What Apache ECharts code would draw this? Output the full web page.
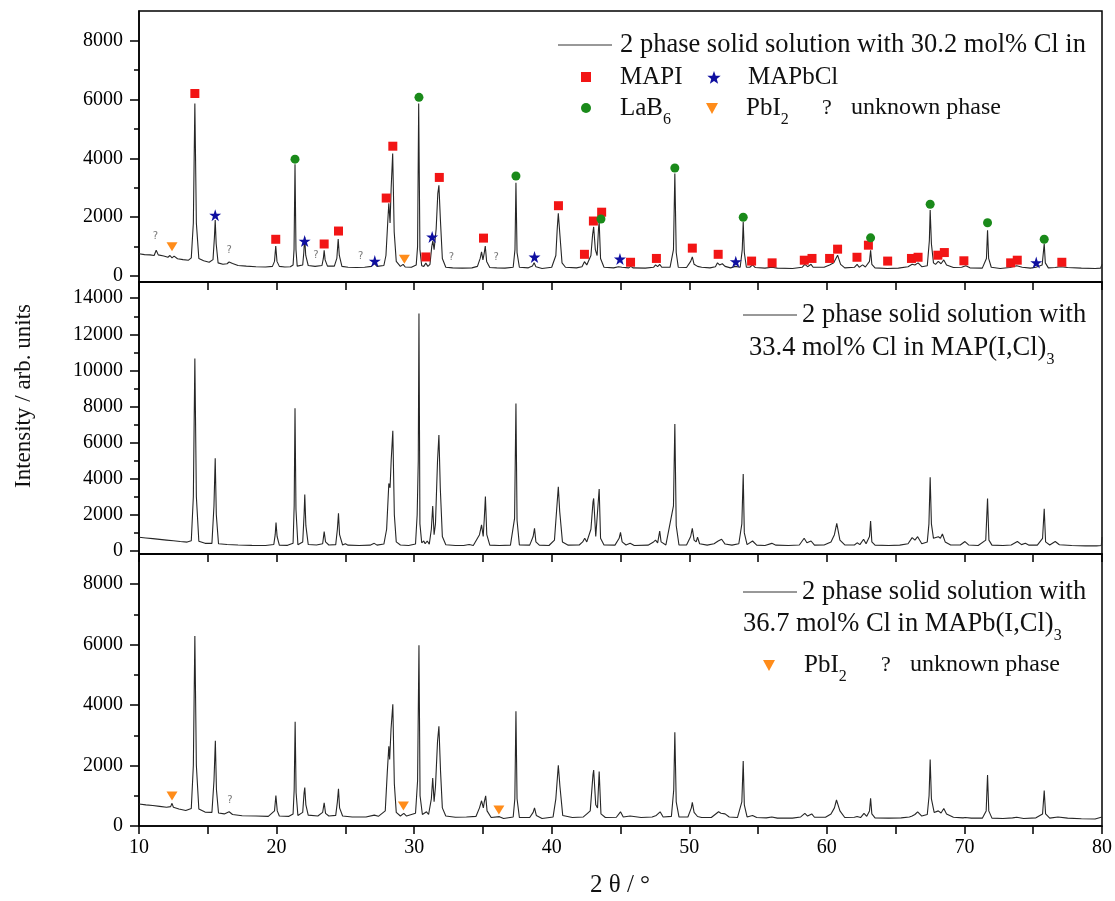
<!DOCTYPE html>
<html>
<head>
<meta charset="utf-8">
<script src="https://cdn.jsdelivr.net/npm/echarts@6/dist/echarts.min.js"></script>
<style>
  html, body { margin: 0; padding: 0; background: #fff; }
  #chart { width: 1115px; height: 901px; }
</style>
</head>
<body>
<div id="chart"></div>
<script>
// tick values
const xTicks = [10, 15, 20, 25, 30, 35, 40, 45, 50, 55, 60, 65, 70, 75, 80];
const xLabels = [10, 20, 30, 40, 50, 60, 70, 80];
const topMajor = [0, 2000, 4000, 6000, 8000];
const topMinor = [1000, 3000, 5000, 7000];
const midMajor = [0, 2000, 4000, 6000, 8000, 10000, 12000, 14000];
const midMinor = [1000, 3000, 5000, 7000, 9000, 11000, 13000];
const botMajor = [0, 2000, 4000, 6000, 8000];
const botMinor = [1000, 3000, 5000, 7000];

// pattern, 30.2 mol% Cl
const pattern302 = [
  [10.0,760],[10.4,730],[10.8,720],[11.1,700],[11.25,880],[11.4,720],[11.8,680],[12.1,640],[12.25,700],[12.4,620],[12.55,680],[12.8,590],[13.2,560],[13.6,540],
  [13.8,620],[13.95,1800],[14.06,5860],[14.17,1800],[14.35,600],[14.7,520],[15.1,470],
  [15.38,560],[15.48,1300],[15.54,1900],[15.61,1100],[15.75,450],[16.1,400],[16.4,420],[16.55,480],[16.8,430],[17.2,360],[17.8,340],[18.5,320],[19.2,310],[19.7,330],
  [19.85,500],[19.94,1020],[20.03,500],[20.2,330],[20.6,310],[21.0,320],[21.2,380],
  [21.27,900],[21.34,3800],[21.41,900],[21.5,340],[21.9,380],
  [21.98,800],[22.04,1330],[22.12,700],[22.3,360],[22.8,330],[23.3,360],
  [23.4,600],[23.46,880],[23.53,550],[23.7,340],[24.2,340],[24.38,600],[24.48,1260],[24.56,700],[24.75,330],[25.2,300],[25.8,290],[26.4,300],[26.9,330],[27.1,430],[27.3,330],[27.8,360],
  [27.95,700],[28.1,2000],[28.16,2470],[28.25,1800],[28.33,3000],[28.44,4160],[28.55,1500],[28.7,500],[29.0,330],[29.2,400],[29.35,310],[29.8,300],[30.15,380],
  [30.25,1000],[30.33,5860],[30.42,900],[30.55,350],[30.7,330],[30.85,440],[31.0,330],
  [31.15,400],[31.28,1000],[31.36,1200],[31.45,900],[31.6,1600],[31.72,2800],[31.8,3080],[31.9,2000],[32.05,600],[32.3,300],[32.8,280],[33.5,270],[34.2,280],[34.6,330],
  [34.8,600],[34.9,820],[35.0,550],[35.1,800],[35.17,1020],[35.27,500],[35.5,290],[36.0,280],[36.6,270],[37.2,300],
  [37.33,900],[37.4,3170],[37.48,800],[37.65,300],[38.3,280],[38.6,340],[38.72,450],[38.85,320],[39.3,260],[40.0,300],[40.3,700],
  [40.4,1600],[40.48,2130],[40.58,1500],[40.75,450],[41.0,300],[41.8,280],[42.2,320],[42.38,490],[42.55,380],[42.85,700],
  [42.97,1400],[43.05,1670],[43.17,900],[43.3,700],[43.4,1600],[43.45,1840],[43.55,600],[43.8,300],[44.5,280],[44.85,320],[44.96,370],[45.1,300],[45.6,280],[45.75,330],[45.9,280],[46.8,270],[47.4,300],[47.55,380],[47.7,320],[47.85,400],[48.0,300],[48.6,300],[48.85,900],
  [48.95,3480],[49.05,800],[49.2,300],[49.8,290],[50.1,500],[50.22,650],[50.35,400],[50.6,330],[50.7,380],[50.9,300],[51.5,280],[51.9,320],[52.05,450],[52.2,380],[52.4,420],[52.6,330],[53.0,280],[53.35,330],[53.7,300],[53.85,900],
  [53.92,1840],[54.0,800],[54.15,300],[54.4,300],[54.6,380],[54.8,290],[55.5,270],[56.0,300],[56.4,270],[57.5,260],[58.2,300],[58.4,400],[58.6,320],[58.85,400],[59.0,300],[59.8,300],[60.2,380],[60.5,450],
  [60.78,710],[61.0,400],[61.3,280],[62.0,300],[62.2,400],[62.35,300],[62.6,380],[62.8,310],[63.1,500],[63.18,880],[63.27,400],[63.5,280],[64.4,260],[65.2,270],[65.9,320],[66.2,400],[66.4,380],[66.63,450],[66.9,320],[67.3,350],[67.45,1200],
  [67.51,2240],[67.6,1100],[67.75,450],[67.9,400],[68.1,500],[68.3,420],[68.5,550],[68.7,380],[69.2,290],[69.8,300],[70.1,350],[70.4,280],[71.3,270],[71.6,600],[71.68,1560],[71.76,600],[71.95,300],[72.6,260],[73.3,290],[73.8,350],[74.2,300],[74.8,270],[75.2,300],[75.65,380],[75.8,1100],[75.88,450],[76.1,280],[76.6,290],[77.0,320],[77.5,290],[78.5,270],[79.5,260],[79.9,270],[80.0,400]
];

// pattern, 33.4 mol% Cl
const pattern334 = [
  [10.0,760],[10.5,720],[11.0,680],[11.5,640],[12.0,600],[12.5,560],[13.0,520],[13.5,490],
  [13.8,560],[13.95,3000],[14.06,10660],[14.17,3000],[14.35,540],[14.8,420],[15.3,420],
  [15.45,2500],[15.54,5130],[15.62,2000],[15.78,400],[16.4,360],[17.2,330],[18.2,310],[19.2,300],[19.8,360],
  [19.9,900],[19.96,1570],[20.04,800],[20.2,320],[20.8,310],[21.2,420],
  [21.28,2500],[21.34,7900],[21.41,2300],[21.55,340],[21.9,500],[22.0,2000],[22.05,3130],[22.13,1400],[22.3,360],[22.9,330],
  [23.35,400],[23.46,1070],[23.56,500],[23.8,330],[24.3,350],[24.42,1200],[24.5,2080],[24.58,900],[24.8,330],[25.0,400],[25.2,320],[26.0,300],[26.8,320],[27.1,420],[27.3,320],[27.8,380],
  [28.0,1200],[28.16,3740],[28.25,3500],[28.33,5000],[28.45,6660],[28.56,2000],[28.7,500],[29.0,330],[29.6,300],[30.1,380],
  [30.22,2000],[30.3,5000],[30.35,13150],[30.42,1500],[30.55,450],[30.7,550],[30.8,400],[30.95,550],[31.1,380],
  [31.25,1200],[31.35,2490],[31.45,900],[31.55,1500],[31.7,5000],[31.8,6420],[31.9,3500],[32.05,800],[32.3,340],[33.0,300],[33.6,300],[34.0,360],[34.3,300],
  [34.75,900],[34.9,1440],[35.02,800],[35.1,1800],[35.18,3010],[35.28,900],[35.5,320],[36.2,300],[37.0,320],
  [37.3,1800],[37.4,8170],[37.48,1700],[37.65,330],[38.4,320],[38.65,800],[38.75,1250],[38.85,500],[39.1,320],[39.8,300],[40.2,600],
  [40.38,2500],[40.48,3560],[40.58,2200],[40.78,500],[41.2,320],[42.0,330],[42.25,500],[42.4,700],[42.55,500],[42.85,1200],
  [43.0,2700],[43.05,2910],[43.2,800],[43.33,900],[43.45,3430],[43.55,700],[43.8,330],[44.6,320],[44.9,700],[45.0,1030],[45.12,500],[45.4,330],[45.7,420],[46.0,300],[47.0,320],[47.4,500],[47.55,600],[47.7,450],[47.85,1100],[47.95,500],[48.3,330],
  [48.85,2500],[48.95,7030],[49.05,1400],[49.25,330],[49.8,330],[50.1,800],[50.22,1250],[50.35,600],[50.5,500],[50.6,760],[50.75,400],[51.3,320],[51.8,400],[52.1,550],[52.35,650],[52.6,380],[53.1,320],[53.6,400],
  [53.82,1500],[53.92,4260],[54.0,1000],[54.2,350],[54.6,550],[54.9,320],[55.5,300],[56.0,420],[56.3,320],[57.2,300],[58.0,330],[58.35,700],[58.55,450],[58.85,550],[59.1,320],[59.8,330],[60.3,500],[60.55,900],
  [60.72,1530],[60.95,600],[61.3,330],[62.0,330],[62.2,450],[62.4,350],[62.67,650],[62.85,400],[63.1,800],[63.18,1660],[63.27,500],[63.5,320],[64.5,300],[65.3,320],[65.9,400],[66.2,740],[66.4,600],[66.6,790],[66.9,400],[67.3,500],
  [67.42,1500],[67.51,4080],[67.6,1500],[67.75,700],[68.1,790],[68.25,700],[68.4,940],[68.6,500],[69.0,330],[69.7,330],[70.04,520],[70.3,330],[71.0,300],
  [71.55,600],[71.68,2900],[71.78,600],[72.0,320],[72.8,300],[73.4,330],[73.85,520],[74.15,350],[74.43,420],[74.7,320],[75.3,320],
  [75.68,700],[75.8,2340],[75.9,500],[76.2,330],[76.6,520],[76.9,340],[77.8,300],[78.8,280],[79.6,280],[79.95,300],[80.0,770]
];

// pattern, 36.7 mol% Cl
const pattern367 = [
  [10.0,730],[10.5,700],[11.0,680],[11.5,650],[12.0,620],[12.3,640],[12.4,750],[12.5,620],[12.9,560],[13.4,510],
  [13.8,580],[13.95,2000],[14.06,6290],[14.17,2000],[14.35,560],[14.8,460],[15.3,450],
  [15.45,1500],[15.55,2820],[15.63,1200],[15.78,430],[16.2,400],[16.55,470],[16.8,380],[17.5,340],[18.5,330],[19.4,320],
  [19.85,500],[19.95,1010],[20.05,500],[20.2,330],[20.9,320],[21.2,400],
  [21.28,1200],[21.35,3450],[21.42,1100],[21.55,350],[21.9,450],[22.0,1100],[22.05,1270],[22.13,700],[22.3,360],[23.0,330],
  [23.35,450],[23.46,770],[23.56,420],[23.8,330],[24.3,350],[24.42,800],[24.5,1230],[24.58,600],[24.8,330],[25.5,300],[26.5,300],[27.1,360],[27.4,320],
  [27.9,500],[28.05,1800],[28.16,2640],[28.22,2200],[28.32,3200],[28.45,4030],[28.56,1400],[28.7,450],[29.0,330],[29.25,420],[29.45,330],[30.1,420],
  [30.25,1500],[30.35,5980],[30.43,1000],[30.6,380],[30.9,470],[31.05,380],
  [31.25,900],[31.35,1590],[31.45,800],[31.55,1300],[31.7,2800],[31.8,3300],[31.92,1800],[32.05,600],[32.3,330],[33.0,290],[33.8,300],[34.5,320],
  [34.75,600],[34.9,835],[35.03,600],[35.1,800],[35.2,1000],[35.3,500],[35.6,280],[36.2,310],[36.5,250],[37.2,300],
  [37.32,900],[37.4,3800],[37.48,900],[37.65,280],[38.4,280],[38.65,450],[38.75,600],[38.88,350],[39.3,250],[40.1,300],
  [40.3,900],[40.48,2010],[40.6,1300],[40.8,350],[41.5,280],[42.3,300],[42.6,420],[42.8,500],
  [43.0,1700],[43.05,1850],[43.2,700],[43.33,600],[43.45,1800],[43.58,400],[43.9,280],[44.7,290],[45.0,470],[45.2,300],[45.7,330],[46.5,280],[47.3,300],[47.6,350],[47.88,470],[48.1,300],[48.7,320],
  [48.87,1200],[48.95,3100],[49.05,800],[49.25,300],[49.9,300],[50.15,600],[50.22,780],[50.35,450],[50.6,315],[50.9,280],[51.6,280],[52.13,470],[52.3,420],[52.6,400],[52.9,300],[53.5,280],
  [53.82,800],[53.92,2150],[54.0,700],[54.2,300],[54.6,350],[54.9,280],[55.6,270],[56.0,300],[56.4,260],[57.5,260],[58.1,300],[58.4,420],[58.6,330],[58.9,400],[59.1,290],[59.9,290],[60.3,400],[60.55,600],
  [60.7,860],[60.95,500],[61.3,280],[62.0,290],[62.2,315],[62.45,280],[62.7,420],[62.9,320],[63.1,500],[63.18,915],[63.27,400],[63.5,270],[64.5,260],[65.4,270],[66.0,300],[66.2,330],[66.4,380],[66.6,470],[66.9,330],[67.3,380],
  [67.43,1000],[67.51,2200],[67.6,900],[67.8,450],[68.1,500],[68.3,430],[68.5,577],[68.7,400],[69.2,290],[69.9,270],[70.05,280],[70.5,260],[71.3,260],
  [71.58,500],[71.68,1690],[71.77,500],[72.0,260],[72.8,250],[73.5,270],[73.8,290],[74.3,250],[75.2,270],
  [75.68,400],[75.8,1170],[75.9,400],[76.2,260],[76.8,300],[77.5,260],[78.5,240],[79.5,230],[80.0,300]
];

// phase markers, top panel
const mapiMarks = [[14.06,6200],[19.94,1250],[23.46,1090],[24.5,1530],[27.97,2650],[28.45,4410],[30.85,650],[31.83,3350],[35.04,1290],[40.49,2390],[42.38,740],[43.03,1870],[43.63,2170],[45.73,470],[47.61,600],[50.22,950],[52.1,740],[54.53,510],[56.02,450],[58.36,540],[58.92,600],[60.2,600],[60.78,915],[62.19,640],[63.02,1050],[64.42,510],[66.15,600],[66.63,640],[68.07,710],[68.54,800],[69.96,520],[73.36,450],[73.84,540],[77.08,470]];
const mapbclMarks = [[15.54,2070],[22.04,1190],[27.14,510],[31.31,1330],[38.75,650],[44.96,580],[53.38,490],[75.22,460]];
const lab6Marks = [[21.34,3970],[30.35,6070],[37.4,3400],[43.58,1940],[48.95,3670],[53.92,2000],[63.18,1300],[67.51,2440],[71.68,1810],[75.8,1250]];
const pbi2MarksTop = [[12.4,1000],[29.29,570]];
const unknownMarksTop = [[11.2,1350],[16.55,880],[22.86,710],[26.12,680],[32.7,640],[35.97,640]];
// phase markers, bottom panel
const pbi2MarksBot = [[12.4,990],[29.22,660],[36.16,530]];
const unknownMarksBot = [[16.6,840]];

const FONT = '"Liberation Serif", "Times New Roman", serif';
const STAR = 'path://M0,-10L2.245,-3.09L9.51,-3.09L3.633,1.18L5.878,8.09L0,3.82L-5.878,8.09L-3.633,1.18L-9.51,-3.09L-2.245,-3.09Z';

const chart = echarts.init(document.getElementById('chart'), null, { renderer: 'canvas' });

const gridPos = [
  { top: 11, height: 271 },
  { top: 282, height: 272 },
  { top: 554, height: 272 }
];
const yRange = [[-200, 9000], [-170, 14900], [0, 9000]];
const majors = [topMajor, midMajor, botMajor];
const minors = [topMinor, midMinor, botMinor];

const grids = gridPos.map(g => ({
  left: 139, right: 13, top: g.top, height: g.height,
  show: true, borderColor: '#000', borderWidth: 1.5, backgroundColor: 'transparent'
}));

const xAxes = [0, 1, 2].map(i => ({
  type: 'value', gridIndex: i, min: 10, max: 80,
  axisLine: { show: true, onZero: false, lineStyle: { color: '#000', width: 1.5 } },
  axisTick: { show: true, length: 8, customValues: xTicks, lineStyle: { color: '#000', width: 1.5 } },
  axisLabel: {
    show: i === 2, customValues: xLabels, margin: 12, formatter: v => String(v),
    color: '#000', fontSize: 20, fontFamily: FONT
  },
  splitLine: { show: false }
}));

const yAxes = [];
[0, 1, 2].forEach(i => {
  yAxes.push({
    type: 'value', gridIndex: i, position: 'left', min: yRange[i][0], max: yRange[i][1],
    axisLine: { show: true, onZero: false, lineStyle: { color: '#000', width: 1.5 } },
    axisTick: { show: true, length: 9, customValues: majors[i], lineStyle: { color: '#000', width: 1.5 } },
    axisLabel: { customValues: majors[i], margin: 16, formatter: v => String(v), color: '#000', fontSize: 20, fontFamily: FONT },
    splitLine: { show: false }
  });
  yAxes.push({
    type: 'value', gridIndex: i, position: 'left', offset: 0, min: yRange[i][0], max: yRange[i][1],
    axisLine: { show: false, onZero: false },
    axisTick: { show: true, length: 5, customValues: minors[i], lineStyle: { color: '#000', width: 1.5 } },
    axisLabel: { show: false },
    splitLine: { show: false }
  });
});

function lineSeries(data, i) {
  return {
    type: 'line', xAxisIndex: i, yAxisIndex: 2 * i, data: data,
    showSymbol: false, symbol: 'none', silent: true,
    lineStyle: { color: '#262626', width: 1.1 }, z: 2
  };
}
function markSeries(data, i, symbol, size, color, rotate) {
  return {
    type: 'scatter', xAxisIndex: i, yAxisIndex: 2 * i, data: data,
    symbol: symbol, symbolSize: size, symbolRotate: rotate || 0,
    itemStyle: { color: color, opacity: 1 }, z: 4, silent: true
  };
}
function qSeries(data, i) {
  return {
    type: 'scatter', xAxisIndex: i, yAxisIndex: 2 * i, data: data,
    symbol: 'circle', symbolSize: 1, itemStyle: { color: 'rgba(0,0,0,0)' }, z: 4, silent: true,
    label: { show: true, position: 'inside', formatter: '?', fontSize: 10, color: '#555', fontFamily: 'DejaVu Sans' }
  };
}

const RED = '#f21515', BLUE = '#0f0fa0', GREEN = '#1a8a1a', ORANGE = '#ff8c1a';

function txt(x, y, text, size, rich, align) {
  const st = {
    x: x, y: y, text: text, fill: '#111',
    font: size + 'px ' + FONT,
    textAlign: align || 'left', textVerticalAlign: 'middle',
    align: align || 'left', verticalAlign: 'middle'
  };
  if (rich) st.rich = rich;
  return { type: 'text', style: st, z: 10 };
}
function subRich(size) {
  return {
    m: { fontSize: size, fontFamily: FONT, color: '#111', lineHeight: 40 },
    s: { fontSize: 16, fontFamily: FONT, color: '#111', lineHeight: 16, verticalAlign: 'bottom' }
  };
}
function starPts(cx, cy, R, r) {
  const pts = [];
  for (let k = 0; k < 10; k++) {
    const a = -Math.PI / 2 + k * Math.PI / 5;
    const rr = k % 2 ? r : R;
    pts.push([cx + rr * Math.cos(a), cy + rr * Math.sin(a)]);
  }
  return pts;
}
function triDown(cx, cy) {
  return { type: 'polygon', shape: { points: [[cx - 6, cy - 5], [cx + 6, cy - 5], [cx, cy + 6]] }, style: { fill: ORANGE }, z: 10 };
}

const graphics = [
  // top legend
  { type: 'line', shape: { x1: 558, y1: 45, x2: 612, y2: 45 }, style: { stroke: '#333', lineWidth: 1 }, z: 10 },
  txt(620, 45, '2 phase solid solution with 30.2 mol% Cl in', 26.5),
  { type: 'rect', shape: { x: 581, y: 72, width: 10, height: 10 }, style: { fill: RED }, z: 10 },
  txt(620, 77, 'MAPI', 25),
  { type: 'polygon', shape: { points: starPts(714, 78, 7, 2.9) }, style: { fill: BLUE }, z: 10 },
  txt(748, 77, 'MAPbCl', 25),
  { type: 'circle', shape: { cx: 586, cy: 108, r: 5 }, style: { fill: GREEN }, z: 10 },
  txt(620, 108, '{m|LaB}{s|6}', 25, subRich(25)),
  triDown(712, 108),
  txt(746, 108, '{m|PbI}{s|2}', 25, subRich(25)),
  txt(822, 108, '?', 22),
  txt(851, 108, 'unknown phase', 24),
  // middle legend
  { type: 'line', shape: { x1: 743, y1: 315, x2: 797, y2: 315 }, style: { stroke: '#333', lineWidth: 1 }, z: 10 },
  txt(802, 315, '2 phase solid solution with', 26.5),
  txt(749, 348, '{m|33.4 mol% Cl in MAP(I,Cl)}{s|3}', 26.5, subRich(26.5)),
  // bottom legend
  { type: 'line', shape: { x1: 743, y1: 592, x2: 797, y2: 592 }, style: { stroke: '#333', lineWidth: 1 }, z: 10 },
  txt(802, 592, '2 phase solid solution with', 26.5),
  txt(743, 624, '{m|36.7 mol% Cl in MAPb(I,Cl)}{s|3}', 26.5, subRich(26.5)),
  triDown(769, 665),
  txt(804, 665, '{m|PbI}{s|2}', 25, subRich(25)),
  txt(881, 665, '?', 22),
  txt(910, 665, 'unknown phase', 24),
  // axis titles
  txt(620, 885, '2 θ / °', 25, null, 'center'),
  {
    type: 'text', x: 24, y: 396, rotation: Math.PI / 2, z: 10,
    style: { x: 0, y: 0, text: 'Intensity / arb. units', fill: '#111', font: '23px ' + FONT,
      textAlign: 'center', textVerticalAlign: 'middle', align: 'center', verticalAlign: 'middle' }
  }
];

const option = {
  animation: false,
  backgroundColor: '#fff',
  grid: grids,
  xAxis: xAxes,
  yAxis: yAxes,
  series: [
    lineSeries(pattern302, 0),
    lineSeries(pattern334, 1),
    lineSeries(pattern367, 2),
    markSeries(mapiMarks, 0, 'rect', 9, RED),
    markSeries(mapbclMarks, 0, STAR, 12, BLUE),
    markSeries(lab6Marks, 0, 'circle', 9, GREEN),
    markSeries(pbi2MarksTop, 0, 'triangle', [11, 9], ORANGE, 180),
    qSeries(unknownMarksTop, 0),
    markSeries(pbi2MarksBot, 2, 'triangle', [11, 9], ORANGE, 180),
    qSeries(unknownMarksBot, 2)
  ],
  graphic: { elements: graphics }
};
chart.setOption(option);
</script>
</body>
</html>
